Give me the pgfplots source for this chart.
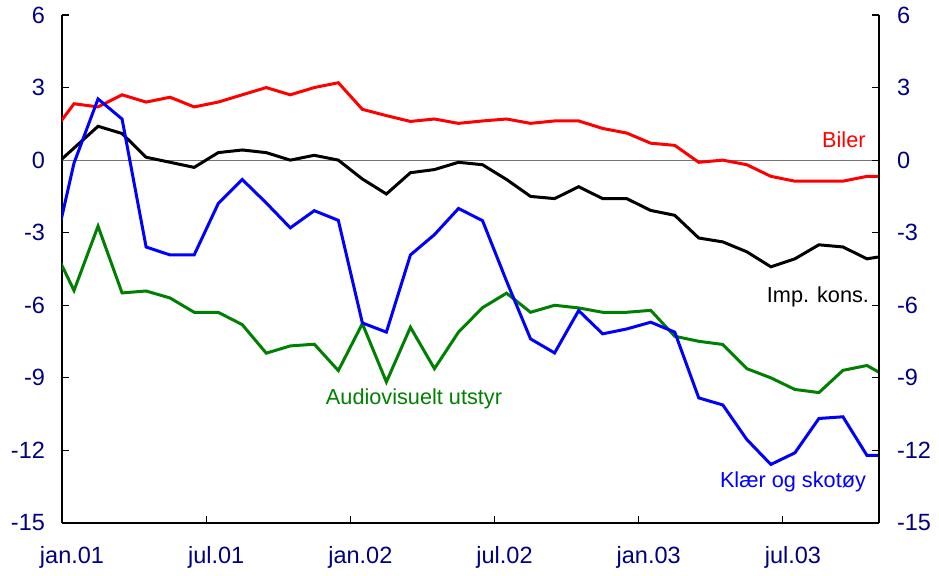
\documentclass[border=0pt]{standalone}
\usepackage{fontspec}
\setmainfont{Liberation Sans}
\usepackage{pgfplots}
\usepackage{pgfplotstable}
\pgfplotsset{compat=1.18}
\definecolor{navy}{rgb}{0,0,0.5}
\definecolor{dgreen}{rgb}{0,0.5,0}
\pgfplotstableread{
x bil imp kla aud
-0.5 1.0 -0.4 -4.5 -3.33
0.5 2.33 0.5 -0.12 -5.39
1.5 2.2 1.4 2.53 -2.73
2.5 2.7 1.1 1.7 -5.49
3.5 2.4 0.12 -3.59 -5.41
4.5 2.6 -0.09 -3.92 -5.7
5.5 2.2 -0.3 -3.92 -6.29
6.5 2.4 0.31 -1.8 -6.29
7.5 2.7 0.42 -0.8 -6.8
8.5 3.0 0.31 -1.77 -7.98
9.5 2.7 0.0 -2.8 -7.68
10.5 3.0 0.2 -2.09 -7.61
11.5 3.2 0.0 -2.49 -8.7
12.5 2.1 -0.78 -6.73 -6.76
13.5 1.84 -1.4 -7.11 -9.17
14.5 1.6 -0.52 -3.92 -6.91
15.5 1.7 -0.39 -3.08 -8.62
16.5 1.52 -0.09 -2.0 -7.11
17.5 1.62 -0.19 -2.5 -6.1
18.5 1.7 -0.8 -5.0 -5.5
19.5 1.52 -1.5 -7.39 -6.29
20.5 1.62 -1.59 -7.97 -6.0
21.5 1.62 -1.1 -6.22 -6.11
22.5 1.31 -1.59 -7.18 -6.29
23.5 1.12 -1.59 -6.98 -6.29
24.5 0.7 -2.08 -6.7 -6.21
25.5 0.61 -2.28 -7.11 -7.28
26.5 -0.09 -3.22 -9.83 -7.49
27.5 0.0 -3.38 -10.12 -7.62
28.5 -0.19 -3.79 -11.55 -8.62
29.5 -0.67 -4.41 -12.58 -9.0
30.5 -0.87 -4.08 -12.1 -9.48
31.5 -0.87 -3.5 -10.68 -9.61
32.5 -0.87 -3.59 -10.61 -8.69
33.5 -0.67 -4.08 -12.21 -8.49
34.5 -0.67 -3.92 -12.21 -9.05
}\data
\pgfplotsset{
  base/.style={
    scale only axis, width=408.5pt, height=254pt,
    xmin=0, xmax=34, ymin=-15, ymax=6,
    ytick={-15,-12,-9,-6,-3,0,3,6},
    yticklabels={-15,-12,-9,-6,-3,0,3,6},
    tick align=inside,
    axis line style={black, line width=0.7pt},
    tick style={black, line width=0.6pt},
    ticklabel style={font=\fontsize{11.75}{14}\selectfont, text=navy},
    y tick label style={},
  }
}
\begin{document}
\begin{tikzpicture}
\begin{axis}[base,
  axis x line*=bottom, axis y line*=left,
  xtick={0,6,12,18,24,30},
  xticklabels={jan.01,jul.01,jan.02,jul.02,jan.03,jul.03},
  x tick label style={xshift=5pt, yshift=-8pt},
  y tick label style={xshift=-5pt},
  major tick length=3.5pt,
  clip=true,
]
\addplot[black!55, line width=0.6pt] coordinates {(0,0) (34,0)};
\addplot[red, line width=1.5pt] table[x=x, y=bil] {\data};
\addplot[black, line width=1.5pt] table[x=x, y=imp] {\data};
\addplot[dgreen, line width=1.5pt] table[x=x, y=aud] {\data};
\addplot[blue, line width=1.5pt] table[x=x, y=kla] {\data};
\node[anchor=base, text=red, font=\fontsize{10.85}{13}\selectfont] at (axis cs:32.54,0.54) {Biler};
\node[anchor=base, text=black, font=\fontsize{10.85}{13}\selectfont] at (axis cs:31.46,-5.88) {Imp. kons.};
\node[anchor=base, text=dgreen, font=\fontsize{10.85}{13}\selectfont] at (axis cs:14.65,-10.12) {Audiovisuelt utstyr};
\node[anchor=base, text=blue, font=\fontsize{10.85}{13}\selectfont] at (axis cs:30.42,-13.55) {Klær og skotøy};
\end{axis}
\begin{axis}[base,
  axis x line=none, axis y line*=right,
  y tick label style={xshift=5.5pt},
  major tick length=3.5pt,
]
\addplot[draw=none] coordinates {(0,0)};
\end{axis}
\pgfresetboundingbox
\path[use as bounding box] (-31pt,-26.5pt) rectangle (438.5pt,261.5pt);
\end{tikzpicture}
\end{document}
